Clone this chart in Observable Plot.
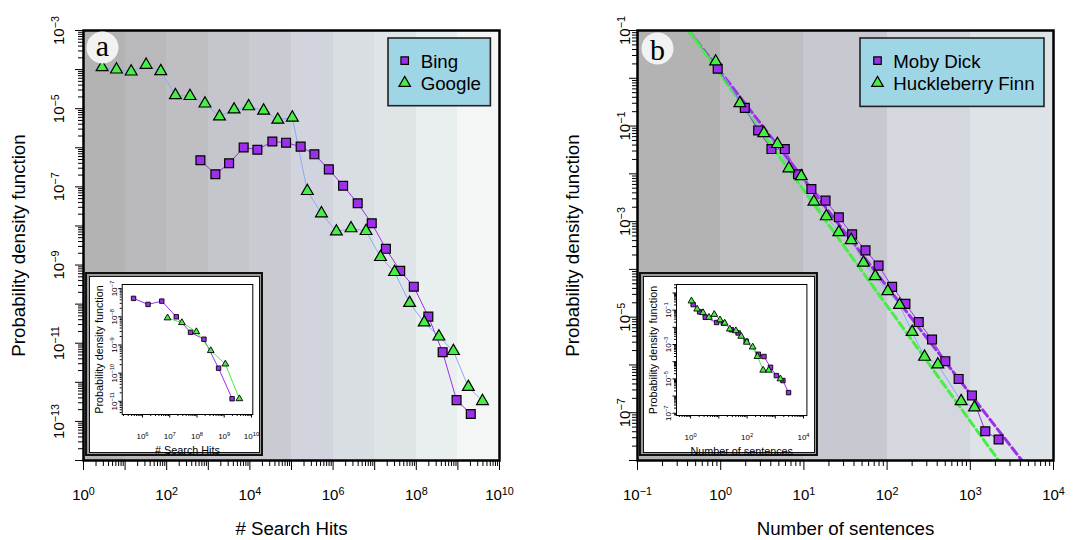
<!DOCTYPE html>
<html><head><meta charset="utf-8">
<script src="https://cdn.jsdelivr.net/npm/d3@7"></script>
<script src="https://cdn.jsdelivr.net/npm/@observablehq/plot@0.6"></script>
<style>
body{margin:0;background:#fff;}
#fig{position:relative;width:1085px;height:540px;overflow:hidden;background:#fff;}
#fig > svg{position:absolute;}
#fig > div{position:absolute;}
</style></head><body><div id="fig"></div>
<script>
// ---------- DATA ----------
// Panel a (search hits)
const bingX = [646,1479,3162,7079,15136,34674,74131,1.66e5,3.55e5,7.9e5,1.74e6,3.9e6,8.5e6,1.86e7,4.1e7,8.7e7,1.95e8,4.3e8,9.3e8,2.04e9];
const bingY = [4.8e-7,2.1e-7,4.0e-7,1.02e-6,8.9e-7,1.45e-6,1.35e-6,1.07e-6,6.8e-7,2.8e-7,1.07e-7,3.8e-8,1.17e-8,2.6e-9,7.1e-10,2.8e-10,4.8e-11,5.9e-12,3.5e-13,1.55e-13];
const googleX = [2.8,6.2,14,32,72,162,363,832,1862,4169,9333,21380,46774,104713,2.4e5,5.25e5,1.2e6,2.7e6,6.2e6,1.38e7,3.0e7,6.9e7,1.55e8,3.5e8,7.8e8,1.78e9,3.9e9];
const googleY = [1.15e-4,1.0e-4,8.9e-5,1.32e-4,9.1e-5,2.2e-5,2.1e-5,1.35e-5,6.3e-6,9.5e-6,1.15e-5,8.9e-6,5.2e-6,5.9e-6,7.8e-8,2.1e-8,7.2e-9,8.7e-9,7.4e-9,1.6e-9,6.6e-10,1.07e-10,3.4e-11,1.48e-11,6.3e-12,7.6e-13,3.3e-13];
// Panel a inset
const insetBingX = [4.7e5,1.6e6,5.1e6,1.74e7,5.8e7,1.8e8,6.2e8,1.95e9];
const insetBingY = [4.5e-8,2.75e-8,3.6e-8,1.0e-8,2.8e-9,1.6e-9,1.5e-10,1.23e-11];
const insetGoogleX = [8.3e6,2.8e7,9.5e7,3.2e8,1.1e9,3.6e9];
const insetGoogleY = [9.1e-9,6.2e-9,2.95e-9,6.3e-10,2.1e-10,1.23e-11];
// Panel b (sentences)
const mobyX = [0.92,1.95,2.82,4.07,5.89,8.5,12.3,18.2,26.3,38,55,79,115,166,240,347,501,724,1047,1514,2188];
const mobyY = [1.58,0.24,0.081,0.033,0.033,9.8e-3,4.8e-3,2.75e-3,1.23e-3,5.4e-4,2.5e-4,1.2e-4,4.3e-5,1.9e-5,7.9e-6,3.4e-6,1.2e-6,5.1e-7,2.3e-7,4.1e-8,2.75e-8];
const huckX = [0.87,1.7,3.3,4.8,6.6,9.3,13.2,18.6,26.3,37,52,72,102,141,200,282,407,776,1122];
const huckY = [2.24,0.30,0.071,0.042,0.013,8.9e-3,2.6e-3,1.29e-3,6.0e-4,4.1e-4,1.38e-4,7.2e-5,3.5e-5,1.8e-5,4.9e-6,1.48e-6,1.02e-6,1.74e-7,1.29e-7];
// Power-law fit lines (end points)
const mobyFitX = [0.41, 4170];
const mobyFitY = [10, 1e-8];
const huckFitX = [0.41, 2190];
const huckFitY = [10, 1e-8];
// Panel b inset
const insetMobyX = [1.23,2.09,3.3,8.3,14.5,28,48,93,251,398,676,1096,1862,2951];
const insetMobyY = [0.21,0.079,0.038,0.019,0.0174,7.2e-3,4.7e-3,1.55e-3,2.7e-4,2.0e-4,4.7e-5,1.55e-5,8e-6,1.58e-6];
const insetHuckX = [1.07,1.7,2.75,4.47,6.9,11,16.2,24.5,40,62,98,158,234,372,589,1514];
const insetHuckY = [0.34,0.115,0.071,0.038,0.056,0.027,0.0174,7.9e-3,6.3e-3,3.0e-3,1.35e-3,7.1e-4,2.0e-4,3.2e-5,3.2e-5,1.0e-5];
// Tick labels
const aXTickVals = [1e0,1e2,1e4,1e6,1e8,1e10];
const aXTickLabels = ["10^0","10^2","10^4","10^6","10^8","10^10"];
const aYTickVals = [1e-3,1e-5,1e-7,1e-9,1e-11,1e-13];
const aYTickLabels = ["10^-3","10^-5","10^-7","10^-9","10^-11","10^-13"];
const bXTickVals = [1e-1,1e0,1e1,1e2,1e3,1e4];
const bXTickLabels = ["10^-1","10^0","10^1","10^2","10^3","10^4"];
const bYTickVals = [1e1,1e-1,1e-3,1e-5,1e-7];
const bYTickLabels = ["10^-1","10^-1","10^-3","10^-5","10^-7"];
const iaXTickVals = [1e6,1e7,1e8,1e9,1e10];
const iaXTickLabels = ["10^6","10^7","10^8","10^9","10^10"];
const iaYTickVals = [1e-7,1e-8,1e-9,1e-10,1e-11];
const iaYTickLabels = ["10^-7","10^-8","10^-9","10^-10","10^-11"];
const ibXTickVals = [1e0,1e2,1e4];
const ibXTickLabels = ["10^0","10^2","10^4"];
const ibYTickVals = [1e-1,1e-3,1e-5,1e-7];
const ibYTickLabels = ["10^-1","10^-3","10^-5","10^-7"];
// Background decade band colours
const bandColorsA = ["#b3b3b3","#b9b9bb","#bfbfc3","#c5c5cc","#c9cad2","#d1d4dc","#d9dee2","#dfe5e7","#e9eeee","#f3f6f5"];
const bandColorsB = ["#b3b3b3","#bebec2","#c8c8d0","#d4d7de","#dde3e6"];
// Legend labels
const legendA = ["Bing","Google"];
const legendB = ["Moby Dick","Huckleberry Finn"];

// ---------- STYLE ----------
const FONT = "'Liberation Sans', Arial, Helvetica, sans-serif";
const SERIF = "'Liberation Serif', 'DejaVu Serif', serif";
const PURPLE = "#9b30e8", GREEN = "#46ee46", BLUE = "#8fa9f2", LEGFILL = "#9fd6e6";
const fig = document.getElementById("fig");
const NS = "http://www.w3.org/2000/svg";

const zip = (xs, ys) => xs.map((x, i) => ({x, y: ys[i]}));
const C = {textAnchor: "middle", lineAnchor: "middle"};

function logTicks(domain) {
  const lo = Math.floor(Math.log10(domain[0]) + 1e-9), hi = Math.ceil(Math.log10(domain[1]) - 1e-9);
  const major = [], minor = [];
  for (let e = lo; e <= hi; e++) {
    const m = +(`1e${e}`);
    if (m >= domain[0] * 0.999 && m <= domain[1] * 1.001) major.push(m);
    for (let k = 2; k <= 9; k++) { const v = +(`${k}e${e}`); if (v >= domain[0] && v <= domain[1]) minor.push(v); }
  }
  return {major, minor};
}

function supify(svg) {
  for (const t of svg.querySelectorAll("text")) {
    const s = t.textContent; const i = s.indexOf("^");
    if (i < 0) continue;
    const base = s.slice(0, i), ex = s.slice(i + 1).replace("-", "\u2212");
    while (t.firstChild) t.removeChild(t.firstChild);
    const a = document.createElementNS(NS, "tspan"); a.textContent = base;
    const b = document.createElementNS(NS, "tspan"); b.textContent = ex;
    b.setAttribute("dy", "-0.5em"); b.setAttribute("font-size", "72%");
    t.append(a, b);
  }
}

function place(el, left, top) { el.style.position = "absolute"; el.style.left = left + "px"; el.style.top = top + "px"; fig.appendChild(el); }

function panel(o) {
  const xt = logTicks(o.xDomain), yt = logTicks(o.yDomain);
  const lo = Math.round(Math.log10(o.xDomain[0]));
  const bands = o.bandColors.map((c, i) => ({x1: +(`1e${lo + i}`), x2: +(`1e${lo + i + 1}`), c}));
  const svg = Plot.plot({
    width: o.width, height: 540,
    marginLeft: o.ml, marginRight: o.mr, marginTop: 30, marginBottom: 80,
    x: {type: "log", domain: o.xDomain},
    y: {type: "log", domain: o.yDomain},
    color: {type: "identity"},
    style: {fontFamily: FONT, fontSize: "15px", background: "transparent", color: "#000"},
    marks: [
      Plot.rect(bands, {x1: "x1", x2: "x2", fill: "c", shapeRendering: "crispEdges"}),
      ...o.fits.map(f => Plot.line(f.data, {x: "x", y: "y", stroke: f.color, strokeWidth: 3, strokeDasharray: "8,4", clip: true})),
      ...o.series.map(s => Plot.line(s.data, {x: "x", y: "y", stroke: s.line, strokeWidth: 1})),
      ...o.series.map(s => Plot.dot(s.data, {x: "x", y: "y", symbol: s.symbol, r: s.r, fill: s.fill, stroke: "#000", strokeWidth: 1.2})),
      Plot.frame({stroke: "#000", strokeWidth: 2.5}),
      Plot.axisX(xt.minor, {anchor: "bottom", tickSize: 6, fill: "none", label: null}),
      Plot.axisX(xt.major, {anchor: "bottom", tickSize: 10, fill: "none", label: null}),
      Plot.axisY(yt.minor, {anchor: "left", tickSize: 5, fill: "none", label: null}),
      Plot.axisY(yt.major, {anchor: "left", tickSize: 8, fill: "none", label: null}),
      Plot.text(o.xTickVals, {...C, x: d => d, text: (d, i) => o.xTickLabels[i], frameAnchor: "bottom", dy: 35, fontSize: 15}),
      Plot.text(o.yTickVals, {...C, y: d => d, text: (d, i) => o.yTickLabels[i], frameAnchor: "left", dx: o.yLabDx, rotate: -90, fontSize: 15}),
      Plot.text([o.xTitle], {...C, text: d => d, frameAnchor: "bottom", dy: 69, fontSize: 18.7}),
      Plot.text([o.yTitle], {...C, text: d => d, frameAnchor: "left", dx: -64, rotate: -90, fontSize: 18.7}),
      Plot.dot([o.letter], {frameAnchor: "top-left", dx: o.letterDx, dy: o.circleDy, r: 16, fill: "#f2f2f2"}),
      Plot.text([o.letter], {...C, text: d => d, frameAnchor: "top-left", dx: o.letterDx, dy: o.letterDy, fontSize: 30, fontFamily: SERIF})
    ]
  });
  supify(svg);
  place(svg, o.left, 0);
}

function inset(o) {
  const box = document.createElement("div");
  box.style.cssText = `width:${o.w}px;height:${o.h}px;box-sizing:border-box;border:2px solid #111;background:#9a9a9a;`;
  const inner = document.createElement("div");
  inner.style.cssText = "position:absolute;left:1.5px;top:1.5px;right:1.5px;bottom:1.5px;border:1.5px solid #111;background:#fff;";
  box.appendChild(inner);
  place(box, o.left, o.top);
  const xt = logTicks(o.xDomain), yt = logTicks(o.yDomain);
  const svg = Plot.plot({
    width: o.w, height: o.h,
    marginLeft: o.ml, marginRight: o.mr, marginTop: o.mt, marginBottom: o.mb,
    x: {type: "log", domain: o.xDomain},
    y: {type: "log", domain: o.yDomain},
    style: {fontFamily: FONT, fontSize: "8px", background: "transparent", color: "#000"},
    marks: [
      ...o.series.map(s => Plot.line(s.data, {x: "x", y: "y", stroke: s.line, strokeWidth: 1})),
      ...o.series.map(s => Plot.dot(s.data, {x: "x", y: "y", symbol: s.symbol, r: s.r, fill: s.fill, stroke: "#000", strokeWidth: 0.9})),
      Plot.frame({stroke: "#000", strokeWidth: 1}),
      Plot.axisX(xt.minor, {anchor: "bottom", tickSize: 2, fill: "none", label: null}),
      Plot.axisX(xt.major, {anchor: "bottom", tickSize: 3.5, fill: "none", label: null}),
      Plot.axisY(yt.minor, {anchor: "left", tickSize: 2, fill: "none", label: null}),
      Plot.axisY(yt.major, {anchor: "left", tickSize: 3.5, fill: "none", label: null}),
      Plot.text(o.xTickVals, {...C, x: d => d, text: (d, i) => o.xTickLabels[i], frameAnchor: "bottom", dy: 22, fontSize: 8}),
      Plot.text(o.yTickVals, {...C, y: d => d, text: (d, i) => o.yTickLabels[i], frameAnchor: "left", dx: -8, rotate: -90, fontSize: 8}),
      Plot.text([o.xTitle], {...C, text: d => d, frameAnchor: "bottom", dy: 36, fontSize: 10.8}),
      Plot.text(["Probability density function"], {...C, text: d => d, frameAnchor: "left", dx: -23, rotate: -90, fontSize: 10.8})
    ]
  });
  supify(svg);
  place(svg, o.left, o.top);
}

function legend(o) {
  const svg = document.createElementNS(NS, "svg");
  svg.setAttribute("width", o.w + 4); svg.setAttribute("height", o.h + 4);
  svg.style.overflow = "visible";
  const r = document.createElementNS(NS, "rect");
  r.setAttribute("x", 2); r.setAttribute("y", 2); r.setAttribute("width", o.w); r.setAttribute("height", o.h);
  r.setAttribute("fill", LEGFILL); r.setAttribute("stroke", "#222"); r.setAttribute("stroke-width", 1.6);
  svg.appendChild(r);
  o.items.forEach((it, i) => {
    const p = document.createElementNS(NS, "path");
    p.setAttribute("d", d3.symbol(it.symbol === "square" ? d3.symbolSquare : d3.symbolTriangle, it.size)());
    p.setAttribute("transform", `translate(${o.symX - o.left + 2},${o.symY0 - o.top + 2 + i * 22.4})`);
    p.setAttribute("fill", it.fill); p.setAttribute("stroke", "#000"); p.setAttribute("stroke-width", 1.2);
    svg.appendChild(p);
    const t = document.createElementNS(NS, "text");
    t.setAttribute("x", o.textX - o.left + 2); t.setAttribute("y", o.baseY0 - o.top + 2 + i * 22.4);
    t.setAttribute("font-family", FONT); t.setAttribute("font-size", 18.7); t.setAttribute("fill", "#000");
    t.textContent = it.label;
    svg.appendChild(t);
  });
  place(svg, o.left - 2, o.top - 2);
}

// ---------- PANEL A ----------
panel({
  left: 0, width: 542, ml: 83, mr: 43,
  xDomain: [1, 1e10], yDomain: [1e-14, 1e-3], bandColors: bandColorsA,
  fits: [],
  series: [
    {data: zip(bingX, bingY), line: PURPLE, symbol: "square", r: 5, fill: PURPLE},
    {data: zip(googleX, googleY), line: BLUE, symbol: "triangle", r: 4.4, fill: GREEN}
  ],
  xTickVals: aXTickVals, xTickLabels: aXTickLabels, yTickVals: aYTickVals, yTickLabels: aYTickLabels,
  yLabDx: -24, xTitle: "# Search Hits", yTitle: "Probability density function",
  letter: "a", letterDx: 19, circleDy: 17, letterDy: 16
});

// ---------- PANEL B ----------
panel({
  left: 542, width: 543, ml: 95, mr: 32,
  xDomain: [0.1, 1e4], yDomain: [1e-8, 10], bandColors: bandColorsB,
  fits: [
    {data: zip(mobyFitX, mobyFitY), color: PURPLE},
    {data: zip(huckFitX, huckFitY), color: GREEN}
  ],
  series: [
    {data: zip(mobyX, mobyY), line: PURPLE, symbol: "square", r: 5, fill: PURPLE},
    {data: zip(huckX, huckY), line: BLUE, symbol: "triangle", r: 4.4, fill: GREEN}
  ],
  xTickVals: bXTickVals, xTickLabels: bXTickLabels, yTickVals: bYTickVals, yTickLabels: bYTickLabels,
  yLabDx: -12, xTitle: "Number of sentences", yTitle: "Probability density function",
  letter: "b", letterDx: 20, circleDy: 18, letterDy: 20
});

// ---------- INSETS ----------
inset({
  left: 85, top: 272, w: 178, h: 184, ml: 36.7, mr: 10.7, mt: 12, mb: 42,
  xDomain: [1.8e5, 1.12e10], yDomain: [3.4e-12, 1.4e-7],
  series: [
    {data: zip(insetBingX, insetBingY), line: PURPLE, symbol: "square", r: 2.5, fill: PURPLE},
    {data: zip(insetGoogleX, insetGoogleY), line: GREEN, symbol: "triangle", r: 2.5, fill: GREEN}
  ],
  xTickVals: iaXTickVals, xTickLabels: iaXTickLabels, yTickVals: iaYTickVals, yTickLabels: iaYTickLabels,
  xTitle: "# Search Hits"
});
inset({
  left: 639, top: 272, w: 179, h: 184, ml: 37, mr: 11.6, mt: 12, mb: 41,
  xDomain: [0.316, 13183], yDomain: [7.4e-8, 3.1],
  series: [
    {data: zip(insetMobyX, insetMobyY), line: PURPLE, symbol: "square", r: 2.5, fill: PURPLE},
    {data: zip(insetHuckX, insetHuckY), line: GREEN, symbol: "triangle", r: 2.5, fill: GREEN}
  ],
  xTickVals: ibXTickVals, xTickLabels: ibXTickLabels, yTickVals: ibYTickVals, yTickLabels: ibYTickLabels,
  xTitle: "Number of sentences"
});

// ---------- LEGENDS ----------
legend({left: 388.3, top: 38.3, w: 102.4, h: 67.7, symX: 405, symY0: 61, textX: 421, baseY0: 68.3,
  items: [{label: legendA[0], symbol: "square", size: 56, fill: PURPLE}, {label: legendA[1], symbol: "triangle", size: 58, fill: GREEN}]});
legend({left: 860, top: 38.3, w: 184, h: 68.4, symX: 877.5, symY0: 61, textX: 893.3, baseY0: 68.3,
  items: [{label: legendB[0], symbol: "square", size: 56, fill: PURPLE}, {label: legendB[1], symbol: "triangle", size: 58, fill: GREEN}]});
</script></body></html>
